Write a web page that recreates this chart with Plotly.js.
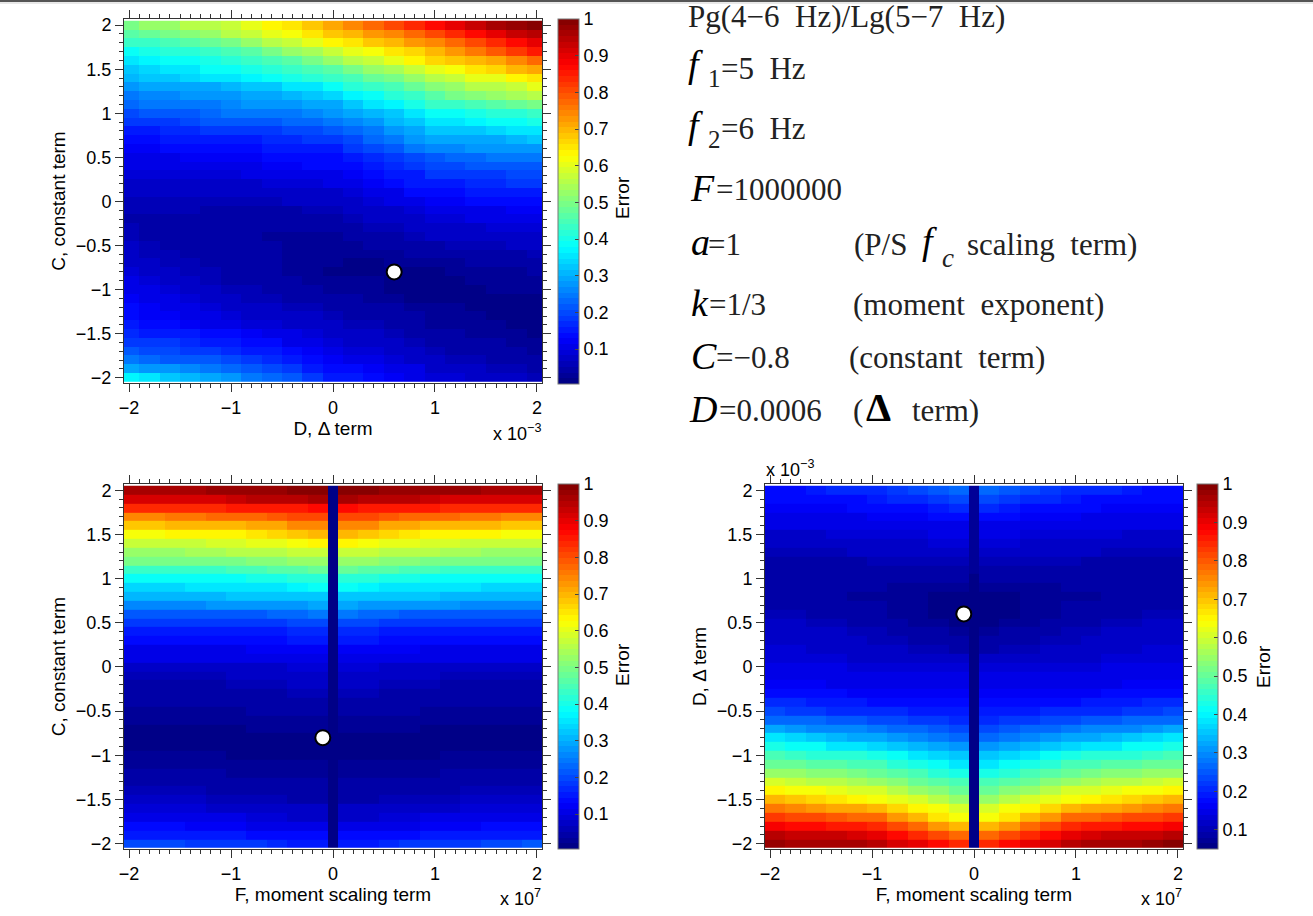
<!DOCTYPE html>
<html>
<head>
<meta charset="utf-8">
<script src="https://cdn.plot.ly/plotly-3.0.1.min.js"></script>
<style>
  html, body { margin: 0; padding: 0; background: #fff; }
  #chart { width: 1313px; height: 916px; }
</style>
</head>
<body>
<div id="chart"></div>
<script>
// grid positions
const termRows = [2, 1.9, 1.8, 1.7, 1.6, 1.5, 1.4, 1.3, 1.2, 1.1, 1, 0.9, 0.8, 0.7, 0.6, 0.5, 0.4, 0.3, 0.2, 0.1, 0,
  -0.1, -0.2, -0.3, -0.4, -0.5, -0.6, -0.7, -0.8, -0.9, -1, -1.1, -1.2, -1.3, -1.4, -1.5, -1.6, -1.7, -1.8, -1.9, -2];
const deltaCols = [-2, -1.8, -1.6, -1.4, -1.2, -1, -0.8, -0.6, -0.4, -0.2, 0, 0.2, 0.4, 0.6, 0.8, 1, 1.2, 1.4, 1.6, 1.8, 2];
// column edges, the narrow one in the middle is the F=0 strip
const momentEdges = [-2.05, -1.85, -1.65, -1.45, -1.25, -1.05, -0.85, -0.65, -0.45, -0.25, -0.05, 0.05,
  0.25, 0.45, 0.65, 0.85, 1.05, 1.25, 1.45, 1.65, 1.85, 2.05];

// error in percent. top row first
const errorDC = [
  [50,52,53,55,56,58,60,63,65,68,71,74,78,81,84,87,90,93,96,98,100],
  [47,48,50,51,53,55,57,60,62,65,68,70,73,75,78,81,84,87,90,93,95],
  [43,44,45,47,48,50,52,55,58,60,63,65,68,70,73,75,78,81,84,87,90],
  [39,40,41,42,43,45,47,49,52,54,57,60,62,65,67,70,73,76,79,82,85],
  [36,37,38,39,40,41,43,45,47,49,52,55,57,60,63,66,68,70,72,75,77],
  [33,34,35,36,38,39,40,41,43,45,47,49,52,54,57,60,62,65,67,69,71],
  [31,32,33,34,35,36,37,38,40,41,43,45,48,50,53,56,58,60,61,63,65],
  [28,29,29,30,30,31,32,33,35,36,38,41,43,45,48,51,53,55,56,58,60],
  [25,26,26,27,27,28,29,30,31,32,34,37,39,41,44,47,49,51,53,54,56],
  [23,24,24,25,25,26,27,27,28,29,30,33,35,37,40,43,44,45,47,48,50],
  [20,21,22,22,23,24,24,25,25,26,27,29,31,33,36,38,39,40,41,42,43],
  [18,19,19,20,21,22,22,22,23,23,24,26,28,31,33,35,36,37,38,39,40],
  [16,16,17,17,18,18,19,19,20,20,21,23,25,28,30,32,33,33,34,35,36],
  [14,14,15,15,16,16,16,17,17,18,18,20,23,25,27,29,29,30,30,31,32],
  [12,12,13,13,14,14,14,15,15,16,16,18,20,22,24,26,26,27,27,28,28],
  [11,11,11,12,12,12,12,13,13,14,14,16,17,19,20,22,23,23,24,24,25],
  [10,10,10,10,11,11,11,12,12,13,13,14,16,17,19,20,20,21,21,22,22],
  [9,9,9,9,9,9,10,10,10,11,11,12,14,15,16,18,18,19,19,20,20],
  [8,8,8,8,8,8,8,9,9,9,10,11,12,13,15,16,16,17,17,18,18],
  [7,7,7,7,7,7,7,7,8,8,8,9,10,11,13,14,14,15,15,16,16],
  [6,6,6,6,6,6,6,6,7,7,7,8,9,10,11,12,12,13,13,14,14],
  [6,6,6,6,5,5,5,5,5,6,6,7,8,8,9,10,10,11,11,12,12],
  [5,5,5,5,5,5,5,5,5,5,5,6,7,7,8,9,9,10,10,11,11],
  [6,5,5,5,4,4,4,4,4,4,4,5,6,6,7,8,8,8,9,9,9],
  [6,5,5,5,4,4,4,3,3,3,3,4,5,5,6,7,7,7,8,8,8],
  [7,6,5,5,5,4,4,4,3,3,3,3,4,4,5,5,6,6,6,7,7],
  [7,6,6,5,5,4,4,4,3,3,3,3,3,3,4,4,4,5,5,5,6],
  [8,7,6,6,5,5,4,4,3,3,3,2,2,3,3,3,3,4,4,4,5],
  [9,8,7,6,6,5,4,4,3,3,2,2,2,2,2,2,3,3,3,3,4],
  [10,9,8,7,6,5,5,4,4,3,3,3,3,2,2,2,2,3,3,3,3],
  [11,10,9,8,7,6,6,5,4,4,3,3,3,2,2,2,2,2,3,3,3],
  [12,11,10,9,8,7,6,6,5,5,4,4,3,3,2,2,2,2,2,2,2],
  [13,12,11,10,9,8,7,7,6,6,5,5,4,4,3,3,3,2,2,2,2],
  [13,12,12,11,10,9,8,8,7,7,6,5,5,4,4,3,3,3,2,2,2],
  [15,14,13,12,11,10,9,9,8,8,7,6,6,5,5,3,3,3,3,2,2],
  [17,16,15,15,14,13,12,11,10,9,8,7,7,6,5,4,4,3,3,3,2],
  [19,18,18,17,16,15,14,13,11,10,9,8,8,7,6,5,5,4,4,3,3],
  [21,20,20,19,18,17,16,15,13,12,10,9,9,8,7,6,5,5,4,4,3],
  [24,23,22,22,21,20,18,17,15,14,12,11,10,9,8,7,6,6,5,5,4],
  [29,28,27,26,25,23,21,20,18,16,14,13,12,11,10,8,8,7,6,6,5],
  [37,35,33,31,29,27,25,23,21,19,16,15,14,12,11,9,9,8,7,7,6]
];

const errorFC = [
  [96,96,96,96,97,97,97,98,99,99,2,99,99,98,98,97,97,97,96,96,96],
  [91,91,91,92,92,93,94,94,95,96,2,96,95,94,94,93,92,92,92,91,91],
  [83,83,83,84,84,85,85,85,86,87,2,87,86,85,85,85,84,84,83,83,83],
  [75,75,76,76,77,77,78,79,80,81,2,81,80,79,78,77,77,76,76,75,75],
  [68,68,69,69,70,70,71,72,74,75,2,75,74,72,71,70,70,69,69,68,68],
  [62,62,63,63,64,64,65,66,68,69,2,69,68,66,65,64,64,63,63,62,62],
  [57,57,58,58,59,59,60,61,62,63,2,63,62,61,60,59,59,58,58,57,57],
  [53,53,53,54,54,55,55,56,57,58,2,58,57,56,55,55,54,54,53,53,53],
  [49,49,49,50,50,50,51,51,52,53,2,53,52,51,51,50,50,50,49,49,49],
  [43,43,44,44,44,45,45,46,47,48,2,48,47,46,45,45,44,44,44,43,43],
  [38,38,38,39,39,39,40,40,41,42,2,42,41,40,40,39,39,39,38,38,38],
  [34,34,34,35,35,35,36,36,37,38,2,38,37,36,36,35,35,35,34,34,34],
  [31,31,31,31,31,32,32,32,33,33,2,33,33,32,32,32,31,31,31,31,31],
  [26,26,26,26,27,27,27,28,28,29,2,29,28,28,27,27,27,26,26,26,26],
  [21,21,21,22,22,22,22,23,23,24,2,24,23,23,22,22,22,22,21,21,21],
  [18,18,18,18,18,19,19,19,20,20,2,20,20,19,19,19,18,18,18,18,18],
  [15,15,15,15,15,16,16,16,17,17,2,17,17,16,16,16,15,15,15,15,15],
  [13,13,13,13,13,14,14,14,15,15,2,15,15,14,14,14,13,13,13,13,13],
  [11,11,11,11,11,11,12,12,12,12,2,12,12,12,12,11,11,11,11,11,11],
  [10,10,10,10,10,10,10,11,11,11,2,11,11,11,10,10,10,10,10,10,10],
  [7,7,7,7,8,8,8,8,9,9,2,9,9,8,8,8,8,7,7,7,7],
  [6,6,6,6,6,7,7,7,8,8,2,8,8,7,7,7,6,6,6,6,6],
  [5,5,5,5,5,6,6,6,7,7,2,7,7,6,6,6,5,5,5,5,5],
  [4,4,4,4,4,5,5,5,6,6,2,6,6,5,5,5,4,4,4,4,4],
  [4,4,4,4,4,4,4,5,5,5,2,5,5,5,4,4,4,4,4,4,4],
  [3,3,3,3,3,3,4,4,4,4,2,4,4,4,4,3,3,3,3,3,3],
  [3,3,3,3,3,3,3,3,3,3,2,3,3,3,3,3,3,3,3,3,3],
  [2,2,2,2,2,2,3,3,3,3,2,3,3,3,3,2,2,2,2,2,2],
  [2,2,2,2,2,2,2,2,2,2,2,2,2,2,2,2,2,2,2,2,2],
  [2,2,2,2,2,2,2,2,2,2,2,2,2,2,2,2,2,2,2,2,2],
  [3,3,3,3,3,2,2,2,2,2,2,2,2,2,2,2,3,3,3,3,3],
  [3,3,3,3,3,3,3,3,3,3,2,3,3,3,3,3,3,3,3,3,3],
  [4,4,4,4,4,3,3,3,3,3,2,3,3,3,3,3,4,4,4,4,4],
  [5,5,5,5,5,4,4,4,4,4,2,4,4,4,4,4,5,5,5,5,5],
  [6,6,6,6,5,5,5,5,4,4,2,4,4,5,5,5,5,6,6,6,6],
  [7,7,7,7,6,6,6,6,5,5,2,5,5,6,6,6,6,7,7,7,7],
  [9,9,9,9,8,8,8,8,7,7,2,7,7,8,8,8,8,9,9,9,9],
  [11,11,11,10,10,10,9,9,8,8,2,8,8,9,9,10,10,10,11,11,11],
  [13,13,13,12,12,12,11,11,10,10,2,10,10,11,11,12,12,12,13,13,13],
  [16,16,16,15,15,15,14,14,13,13,2,13,13,14,14,15,15,15,16,16,16],
  [20,20,20,19,19,18,18,17,16,16,2,16,16,17,18,18,19,19,20,20,21]
];

const errorFD = [
  [18,18,19,20,20,21,22,23,25,26,7,26,25,23,22,21,20,20,19,18,18],
  [17,17,17,18,18,19,20,21,22,23,7,23,22,21,20,19,18,18,17,17,17],
  [16,16,16,16,17,17,18,18,19,20,7,20,19,18,18,17,17,16,16,16,16],
  [15,15,15,15,15,16,16,16,17,17,7,17,17,16,16,16,15,15,15,15,15],
  [14,14,14,14,14,14,15,15,15,15,7,15,15,15,15,14,14,14,14,14,14],
  [12,12,12,13,13,13,13,13,14,14,7,14,14,13,13,13,13,13,12,12,12],
  [11,11,11,12,12,12,12,12,13,13,7,13,13,12,12,12,12,12,11,11,11],
  [10,10,10,10,11,11,11,11,12,12,7,12,12,11,11,11,11,10,10,10,10],
  [9,9,9,9,9,10,10,10,10,10,7,10,10,10,10,10,9,9,9,9,9],
  [8,8,8,8,8,8,9,9,9,9,7,9,9,9,9,8,8,8,8,8,8],
  [8,8,8,8,8,8,8,8,8,8,6,8,8,8,8,8,8,8,8,8,8],
  [8,8,8,8,8,8,7,7,7,7,6,7,7,7,7,8,8,8,8,8,8],
  [8,8,8,8,7,7,7,7,6,6,6,6,6,7,7,7,7,8,8,8,8],
  [9,9,9,8,8,8,7,7,6,6,6,6,6,7,7,8,8,8,9,9,9],
  [10,10,9,9,8,8,7,7,6,6,6,6,6,7,7,8,8,9,9,10,10],
  [11,11,10,10,9,9,8,7,7,6,6,6,7,7,8,9,9,10,10,11,11],
  [12,12,11,11,10,10,9,8,8,7,6,7,8,8,9,10,10,11,11,12,12],
  [12,12,12,11,11,10,10,9,9,8,6,8,9,9,10,10,11,11,12,12,12],
  [13,13,12,12,12,11,11,10,10,9,6,9,10,10,11,11,12,12,12,13,13],
  [13,13,13,13,12,12,12,12,11,11,6,11,11,12,12,12,12,13,13,13,13],
  [14,14,14,14,13,13,13,13,13,13,6,13,13,13,13,13,13,14,14,14,14],
  [15,15,15,14,14,14,14,14,14,14,6,14,14,14,14,14,14,14,15,15,15],
  [16,16,16,15,15,15,15,15,15,15,6,15,15,15,15,15,15,15,16,16,16],
  [18,18,17,17,16,16,16,16,16,16,6,16,16,16,16,16,16,17,17,18,18],
  [20,20,19,19,19,18,18,18,17,17,6,17,17,18,18,18,19,19,19,20,20],
  [23,22,22,21,21,20,20,19,19,19,6,19,19,19,20,20,21,21,22,22,23],
  [27,26,26,25,25,24,23,22,22,21,6,21,22,22,23,24,25,25,26,26,27],
  [32,31,30,30,29,28,27,26,25,24,6,24,25,26,27,28,29,30,30,31,32],
  [38,37,35,34,33,32,31,29,28,27,6,27,28,29,31,32,33,34,35,37,38],
  [43,42,41,39,38,37,36,34,33,31,6,31,33,34,36,37,38,39,41,42,43],
  [47,46,45,45,44,43,41,39,37,35,6,35,37,39,41,43,44,45,45,46,47],
  [51,50,49,49,48,47,45,43,41,39,6,39,41,43,45,47,48,49,49,50,51],
  [55,54,53,53,52,51,49,47,45,43,6,43,45,47,49,51,52,53,53,54,55],
  [60,59,58,57,56,55,53,51,49,47,6,47,49,51,53,55,56,57,58,59,60],
  [65,64,63,62,61,60,58,55,53,51,6,51,53,55,58,60,61,62,63,64,65],
  [71,70,68,67,65,64,62,60,57,55,6,55,57,60,62,64,65,67,68,70,71],
  [77,76,74,73,72,71,68,65,63,60,6,60,63,65,68,71,72,73,74,76,77],
  [83,82,81,80,79,78,74,71,67,64,6,64,67,71,74,78,79,80,81,82,83],
  [89,88,87,86,86,85,81,78,74,71,6,71,74,78,81,85,86,86,87,88,89],
  [95,94,93,93,92,91,88,85,81,78,6,78,81,85,88,91,92,93,93,94,95],
  [98,97,97,97,96,95,92,90,87,84,6,84,87,90,92,95,96,97,97,98,99]
];

// best fit point of each panel
const bestDelta = [0.6];
const bestConstant = [-0.8];
const bestMoment = [-0.1];
const barTicks = [0.1, 0.2, 0.3, 0.4, 0.5, 0.6, 0.7, 0.8, 0.9, 1];
const barLabels = ['0.1', '0.2', '0.3', '0.4', '0.5', '0.6', '0.7', '0.8', '0.9', '1'];

const W = 1313, H = 916;
const sans = 'Liberation Sans, Arial, sans-serif';
const serif = 'Liberation Serif, Times New Roman, serif';
const labelSize = 18, titleSize = 19;

const px = x => x / W;
const py = y => 1 - y / H;
const toError = rows => rows.map(r => r.map(v => v / 100));

// jet with 64 flat levels, like the matlab colormap
function jetLevels() {
  const clamp = v => Math.round(255 * Math.max(0, Math.min(1, v)));
  const scale = [];
  for (let i = 0; i < 64; i++) {
    const t = (i + 0.5) / 64;
    const c = 'rgb(' + clamp(1.5 - Math.abs(4 * t - 3)) + ',' + clamp(1.5 - Math.abs(4 * t - 2)) + ',' + clamp(1.5 - Math.abs(4 * t - 1)) + ')';
    scale.push([i / 64, c], [(i + 1) / 64, c]);
  }
  return scale;
}
const jet = jetLevels();

function heat(x, y, z, axisId, barLeft, barTop, zmin) {
  return {
    type: 'heatmap', x: x, y: y, z: toError(z),
    xaxis: 'x' + axisId, yaxis: 'y' + axisId,
    zmin: zmin, zmax: 1, colorscale: jet, hoverinfo: 'skip',
    colorbar: {
      x: px(barLeft), xanchor: 'left', xpad: 0,
      y: py(barTop), yanchor: 'top', ypad: 0,
      len: 365 / H, lenmode: 'fraction',
      thickness: 21, thicknessmode: 'pixels',
      tickvals: barTicks, ticktext: barLabels,
      ticks: 'inside', ticklen: 4, tickcolor: '#444', tickwidth: 1,
      tickfont: { family: sans, size: labelSize, color: '#000' },
      outlinecolor: '#777', outlinewidth: 1
    }
  };
}

function dot(x, y, axisId) {
  return {
    type: 'scatter', mode: 'markers', x: x, y: y,
    xaxis: 'x' + axisId, yaxis: 'y' + axisId, showlegend: false, hoverinfo: 'skip',
    marker: { size: 15, color: '#fff', line: { color: '#000', width: 2 } }
  };
}

function axis(domain, range, major, title, standoff, anchor) {
  return {
    domain: domain, range: range, anchor: anchor,
    tickmode: 'linear', tick0: 0, dtick: major,
    ticks: 'outside', ticklen: 8, tickwidth: 1, tickcolor: '#333',
    minor: { dtick: 0.1, ticks: 'outside', ticklen: 4, tickwidth: 1, tickcolor: '#333', showgrid: false },
    showline: true, linecolor: '#333', linewidth: 1, mirror: 'ticks',
    showgrid: false, zeroline: false,
    tickfont: { family: sans, size: labelSize, color: '#000' },
    title: { text: title, standoff: standoff, font: { family: sans, size: titleSize, color: '#000' } }
  };
}

const xRange = [-2.05, 2.05];
const yRange = [-2.06, 2.07];
const leftCol = [px(124), px(542)];
const rightCol = [px(765), px(1183)];
const topRow = [py(383), py(19)];
const lowRow = [py(849), py(484)];

const traces = [
  heat(deltaCols, termRows, errorDC, '', 558, 19, 0.005),
  dot(bestDelta, bestConstant, ''),
  heat(momentEdges, termRows, errorFC, '2', 558, 484, 0.005),
  dot(bestMoment, bestConstant, '2'),
  heat(momentEdges, termRows, errorFD, '3', 1197, 484, 0.05),
  dot(bestMoment, bestDelta, '3')
];

const notes = [];
function note(text, x, y, size, anchor, extra) {
  notes.push(Object.assign({
    text: text, x: px(x), y: py(y), xref: 'paper', yref: 'paper',
    xanchor: anchor || 'left', yanchor: 'middle', showarrow: false,
    font: { family: serif, size: size, color: '#222' }
  }, extra || {}));
}

// axis exponents and colorbar titles
[['x 10<sup>\u22123</sup>', 517, 433], ['x 10<sup>7</sup>', 520, 897], ['x 10<sup>7</sup>', 1161, 897], ['x 10<sup>\u22123</sup>', 790, 469]].forEach(e => {
  note(e[0], e[1], e[2], 18, 'center', { font: { family: sans, size: 18, color: '#000' } });
});
[[622, 198], [622, 665], [1263, 667]].forEach(e => {
  note('Error', e[0], e[1], titleSize, 'center', { font: { family: sans, size: titleSize, color: '#000' }, textangle: -90 });
});

// parameter list on the right
const big = 38, body = 31;
const italic = { font: { family: serif, size: big, color: '#000' } };
note('Pg(4\u22126\u00a0\u00a0Hz)/Lg(5\u22127\u00a0\u00a0Hz)', 686, 16, body);
note('<i>f</i>', 686, 64, big, 'left', italic);
note('1', 706, 78, 25);
note('=5\u00a0\u00a0Hz', 719, 68, body);
note('<i>f</i>', 686, 125, big, 'left', italic);
note('2', 706, 139, 25);
note('=6\u00a0\u00a0Hz', 719, 129, body);
note('<i>F</i>', 688, 188, big, 'left', italic);
note('=1000000', 714, 189, body);
note('<i>a</i>', 689, 242, big, 'left', italic);
note('=1', 706, 244, body);
note('(P/S', 852, 244, body);
note('<i>f</i>', 920, 241, big, 'left', italic);
note('<i>c</i>', 940, 258, 27);
note('scaling\u00a0\u00a0term)', 965, 244, body);
note('<i>k</i>', 689, 303, big, 'left', italic);
note('=1/3', 707, 304, body);
note('(moment\u00a0\u00a0exponent)', 851, 304, body);
note('<i>C</i>', 689, 356, big, 'left', italic);
note('=\u22120.8', 714, 357, body);
note('(constant\u00a0\u00a0term)', 847, 357, body);
note('<i>D</i>', 687, 409, big, 'left', italic);
note('=0.0006', 717, 410, body);
note('(', 851, 410, body);
note('<b>\u0394</b>', 864, 408, 40, 'left', { font: { family: serif, size: 40, color: '#000' } });
note('term)', 910, 410, body);

const layout = {
  width: W, height: H,
  margin: { l: 0, r: 0, t: 0, b: 0 },
  paper_bgcolor: '#fff', plot_bgcolor: '#fff',
  showlegend: false,
  xaxis: axis(leftCol, xRange, 1, 'D, \u0394 term', 2, 'y'),
  yaxis: axis(topRow, yRange, 0.5, 'C, constant term', 5, 'x'),
  xaxis2: axis(leftCol, xRange, 1, 'F, moment scaling term', 2, 'y2'),
  yaxis2: axis(lowRow, yRange, 0.5, 'C, constant term', 5, 'x2'),
  xaxis3: axis(rightCol, xRange, 1, 'F, moment scaling term', 2, 'y3'),
  yaxis3: axis(lowRow, yRange, 0.5, 'D, \u0394 term', 5, 'x3'),
  annotations: notes,
  shapes: [
    { type: 'rect', xref: 'paper', yref: 'paper', x0: 0, x1: 1, y0: py(2), y1: 1, line: { width: 0 }, fillcolor: '#555' },
    { type: 'rect', xref: 'paper', yref: 'paper', x0: 0, x1: 1, y0: py(4), y1: py(2), line: { width: 0 }, fillcolor: '#e8e8e8' }
  ]
};

Plotly.newPlot('chart', traces, layout, { displayModeBar: false });
</script>
</body>
</html>
